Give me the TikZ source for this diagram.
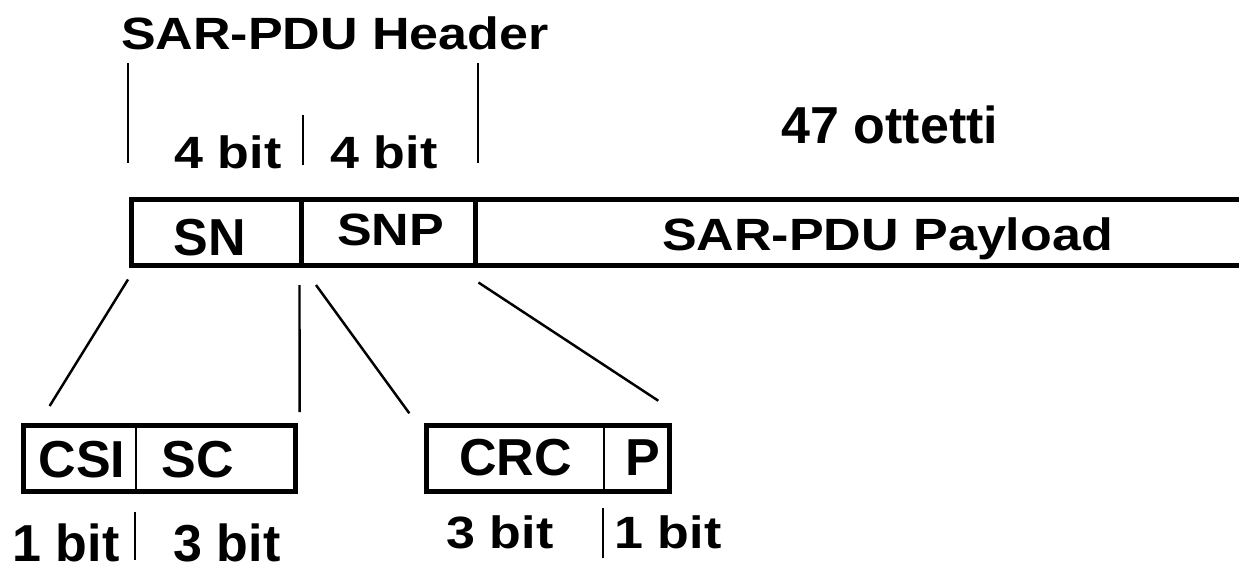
\documentclass[tikz,border=0pt]{standalone}
\usepackage{fontspec}
\setmainfont{Liberation Sans}
\usepackage{graphicx}
\usepackage{xcolor}
\definecolor{cInk}{HTML}{000000}
\usepackage{tikz}
\usetikzlibrary{positioning}
\newcommand{\vsquash}[1]{\scalebox{1}[0.87]{#1}}
\tikzset{
  field-main/.style={draw=cInk,line width=2.85pt,inner sep=0pt,outer sep=0pt,
    minimum height=1.33cm},
  field-sub/.style={draw=cInk,line width=2.85pt,inner sep=0pt,outer sep=0pt,
    minimum height=1.33cm},
  field-text/.style={anchor=base,inner sep=0pt,text=cInk,
    font=\fontsize{29.6}{34}\selectfont\bfseries},
  divider/.style={draw=cInk,line width=1.3pt},
  bit-tick/.style={draw=cInk,line width=1.2pt},
  fan/.style={draw=cInk,line width=1.4pt},
}
\begin{document}
\begin{tikzpicture}[x=0.02cm,y=-0.02cm]
  \useasboundingbox (0,0) rectangle (1239,566);
  % cella principale
  \node[field-main,minimum width=3.41cm] (sn) at (216.25,232.25) {};
  \node[field-main,minimum width=3.48cm,right=0pt of sn] (snp) {};
  \node[field-main,minimum width=15.33cm,right=0pt of snp] (payload) {};
  \node[field-text] (sn-txt) at (210,255) {SN};
  \node[field-text] (snp-txt) at (390.5,245) {\vsquash{SNP}};
  \node[field-text] (payload-txt) at (887.5,250) {\vsquash{SAR-PDU Payload}};
  % intestazione
  \node[field-text] (hdr) at (335,49) {\vsquash{SAR-PDU Header}};
  \draw[bit-tick] (128,63) -- (128,163);
  \draw[bit-tick] (478,63) -- (478,163);
  \draw[bit-tick] (303,115) -- (303,165);
  \node[field-text] (sn-bits) at (228,168) {\vsquash{4 bit}};
  \node[field-text] (snp-bits) at (384,168) {\vsquash{4 bit}};
  \node[field-text] (oct) at (890,143) {47 ottetti};
  % campi SN e SNP
  \node[field-sub,minimum width=5.44cm] (sub-a) at (159.6,458.25) {};
  \node[field-sub,minimum width=4.88cm] (sub-b) at (548,458.25) {};
  \draw[divider] (136,428) -- (136,489);
  \draw[divider] (604,428) -- (604,489);
  \node[field-text] (csi) at (82,477) {CSI};
  \node[field-text] (sc) at (197.5,477) {SC};
  \node[field-text] (crc) at (515.5,475) {CRC};
  \node[field-text] (par) at (642.7,475) {P};
  \draw[bit-tick] (135,512) -- (135,560);
  \node[field-text] (csi-bits) at (66,561) {1 bit};
  \node[field-text] (sc-bits) at (227,561) {3 bit};
  \draw[bit-tick] (603,508) -- (603,558);
  \node[field-text] (crc-bits) at (500,548) {\vsquash{3 bit}};
  \node[field-text] (par-bits) at (668,548) {\vsquash{1 bit}};
  % linee di espansione
  \draw[fan] ([shift={(-3,14)}]sn.south west) -- ([shift={(26,-19)}]sub-a.north west);
  \draw[fan] ([shift={(-2,19.5)}]sn.south east) -- ([shift={(4,-13)}]sub-a.north east);
  \draw[fan] ([shift={(14.5,19.5)}]snp.south west) -- ([shift={(-16.7,-11.7)}]sub-b.north west);
  \draw[fan] ([shift={(3,17)}]snp.south east) -- ([shift={(-11.7,-24.3)}]sub-b.north east);
\end{tikzpicture}
\end{document}
